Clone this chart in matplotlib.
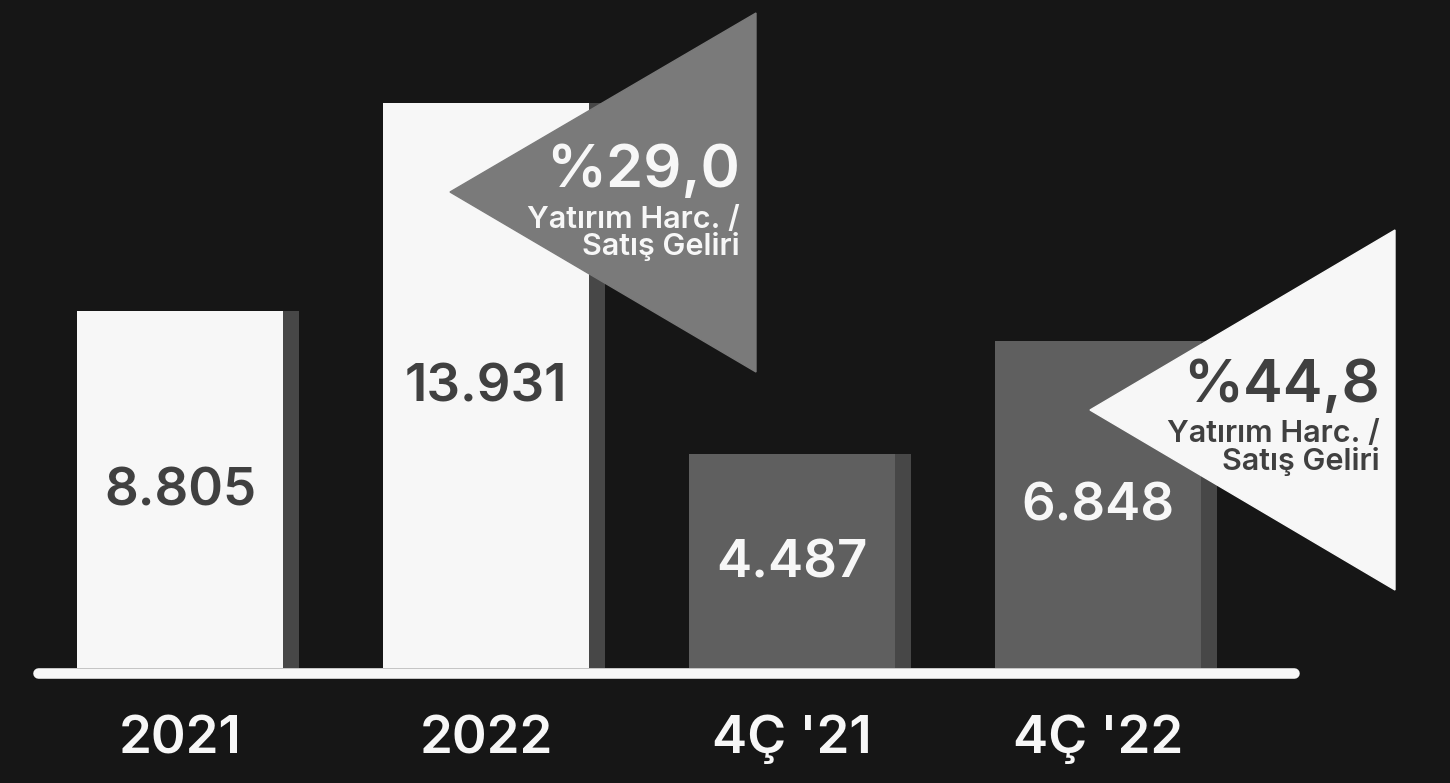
import matplotlib.pyplot as plt
from matplotlib.patches import Polygon

# Veriler
categories = ["2021", "2022", "4Ç '21", "4Ç '22"]
annual_values = [8805, 13931]
quarter_values = [4487, 6848]
value_labels = ["8.805", "13.931", "4.487", "6.848"]
ratio_labels = ["%29,0", "%44,8"]
ratio_text = "Yatırım Harc. /\nSatış Geliri"

W, H = 1450, 783
bg = "#161616"
white = "#f7f7f7"
gray = "#5f5f5f"
shadow = "#474747"
dark_text = "#404040"
font = "Inter"


def fx(p):
    return p / W


def fy(p):
    return 1 - p / H


fig = plt.figure(figsize=(W / 100, H / 100), dpi=100, facecolor=bg)
ax = fig.add_axes([0, 0, 1, 1])
ax2 = fig.add_axes([0, 0, 1, 1], sharex=ax)
for a in (ax, ax2):
    a.set_axis_off()
ax.set_facecolor(bg)
ax2.patch.set_alpha(0)

# x ekseni: kategori merkezleri 180 px'den başlayıp 306 px aralıklı
ax.set_xlim(-180 / 306, (W - 180) / 306)
# yıllık ve çeyreklik çubuklar farklı ölçekte
s1 = 357.3 / 8805
s2 = 0.0478
ax.set_ylim(-115 / s1, 668 / s1)
ax2.set_ylim(-115 / s2, 668 / s2)

bw = 206 / 306
sh_off = 111 / 306
sh_w = 16.6 / 306

x_annual = [0, 1]
x_quarter = [2, 3]

ax.bar([x + sh_off for x in x_annual], annual_values, width=sh_w, color=shadow, zorder=1)
ax.bar(x_annual, annual_values, width=bw, color=white, zorder=2)
ax2.bar([x + sh_off for x in x_quarter], quarter_values, width=sh_w, color=shadow, zorder=1)
ax2.bar(x_quarter, quarter_values, width=bw, color=gray, zorder=2)

# değer etiketleri çubuğun ortasında
for x, v, lab in zip(x_annual, annual_values, value_labels[:2]):
    ax.text(x, v / 2 - 3 / s1, lab, ha="center", va="center", fontsize=38,
            color=dark_text, family=font, weight="semibold", zorder=5)
for x, v, lab in zip(x_quarter, quarter_values, value_labels[2:]):
    ax2.text(x, v / 2 - 3 / s2, lab, ha="center", va="center", fontsize=38,
             color=white, family=font, weight="semibold", zorder=5)

# taban çizgisi
ax2.plot([fx(38), fx(1294)], [fy(673), fy(673)], transform=ax2.transAxes,
         color=white, lw=7.6, solid_capstyle="round", zorder=6)

# kategori etiketleri
trans = ax2.get_xaxis_transform()
for i, c in enumerate(categories):
    ax2.text(i, fy(753), c, transform=trans, ha="center", va="baseline",
             fontsize=38, color=white, family=font, weight="semibold")

# oran üçgenleri
tri1 = Polygon([(fx(450), fy(192)), (fx(756), fy(13)), (fx(756), fy(372))],
               closed=True, transform=ax2.transAxes, color="#7a7a7a", zorder=7)
tri2 = Polygon([(fx(1090), fy(410)), (fx(1395), fy(230)), (fx(1395), fy(590))],
               closed=True, transform=ax2.transAxes, color=white, zorder=7)
ax2.add_patch(tri1)
ax2.add_patch(tri2)

ax2.text(fx(740), fy(187), ratio_labels[0], transform=ax2.transAxes, ha="right",
         va="baseline", fontsize=43, color=white, family=font, weight="semibold", zorder=8)
ax2.text(fx(740), fy(255), ratio_text, transform=ax2.transAxes, ha="right",
         va="baseline", fontsize=22, color=white, family=font, weight="semibold",
         linespacing=0.93, zorder=8)
ax2.text(fx(1380), fy(402), ratio_labels[1], transform=ax2.transAxes, ha="right",
         va="baseline", fontsize=43, color=dark_text, family=font, weight="semibold", zorder=8)
ax2.text(fx(1380), fy(470), ratio_text, transform=ax2.transAxes, ha="right",
         va="baseline", fontsize=22, color=dark_text, family=font, weight="semibold",
         linespacing=0.95, zorder=8)

fig.savefig("out.png", dpi=100, facecolor=bg)
